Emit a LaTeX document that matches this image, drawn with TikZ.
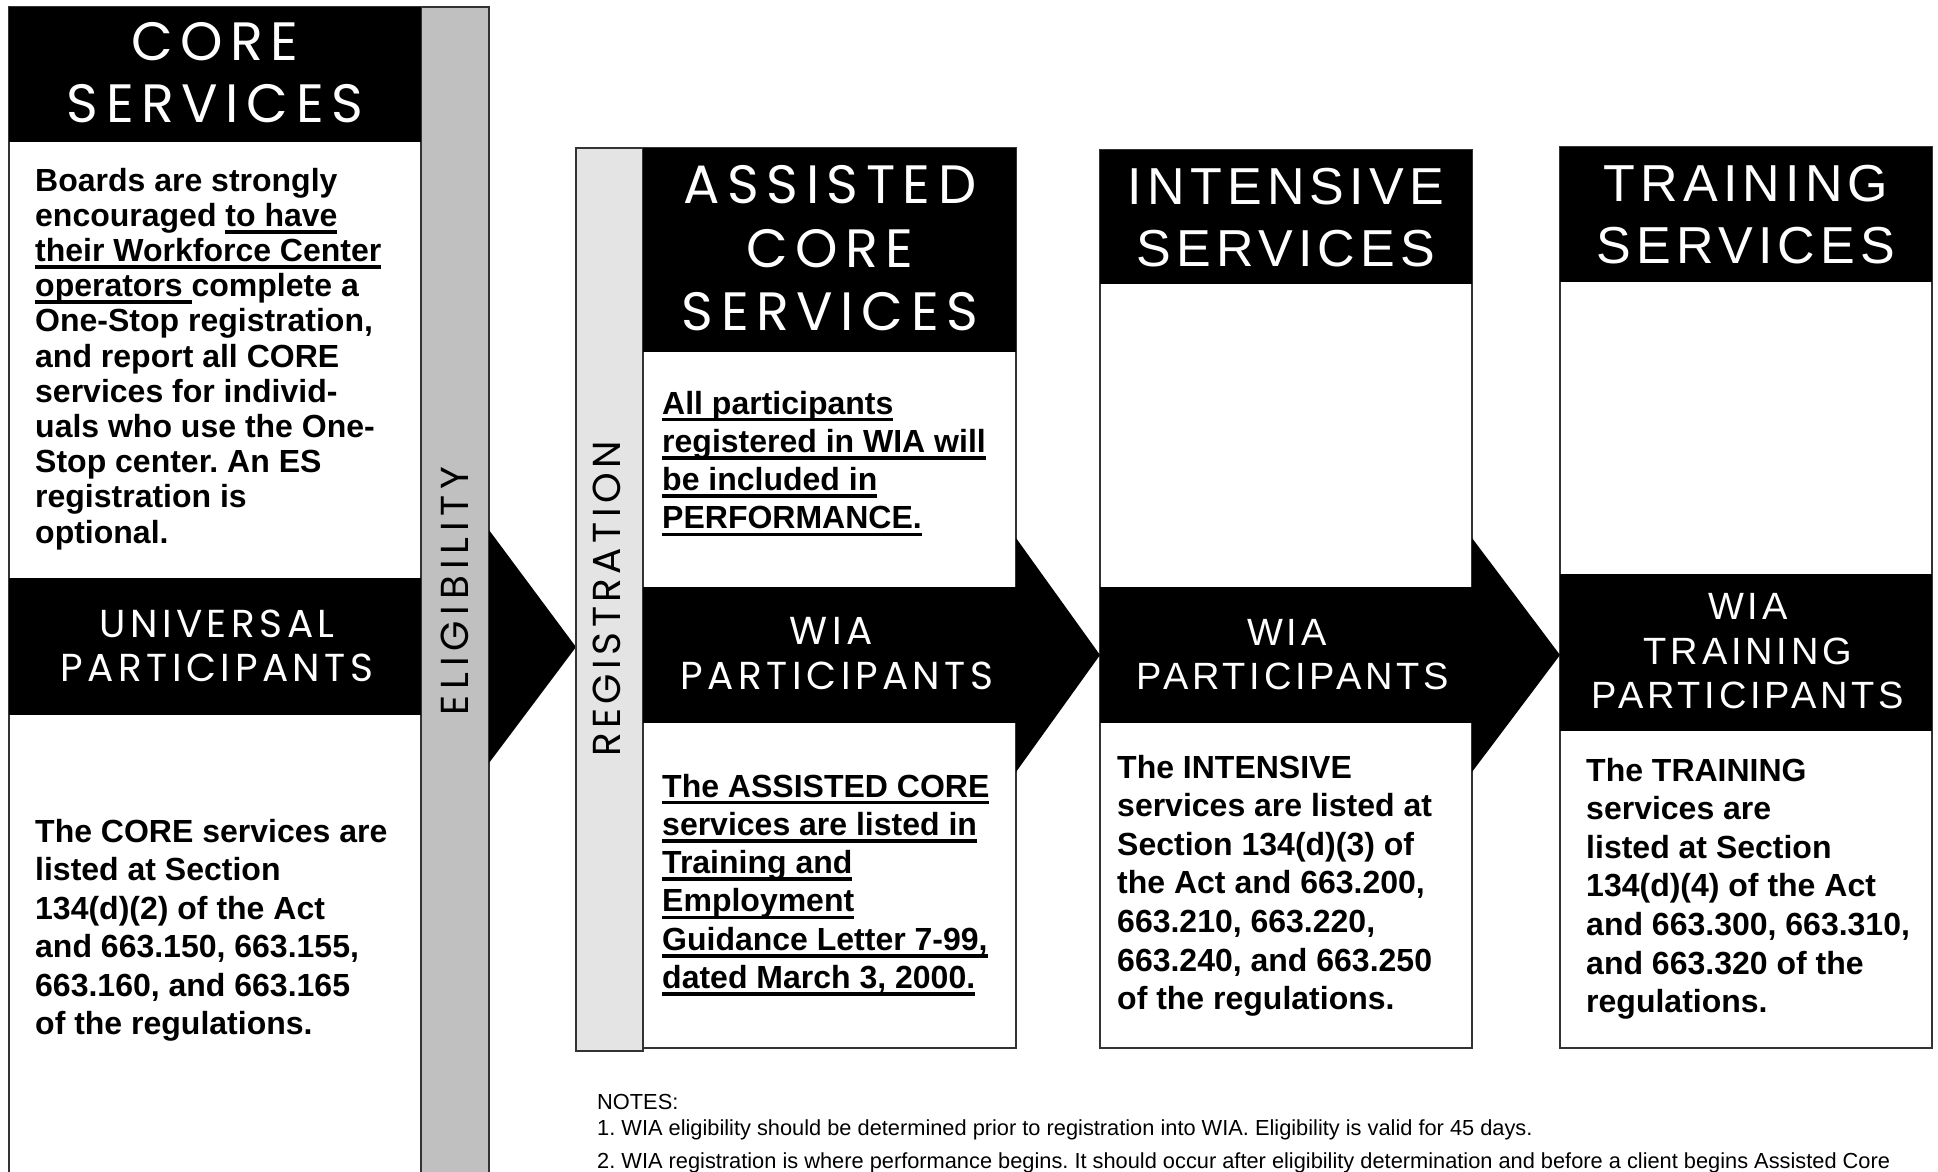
\documentclass[tikz,border=0pt]{standalone}
\usepackage{fontspec}
\setmainfont{Liberation Sans}
\newfontfamily\hdfont{Poppins}[LetterSpace=14]
\newfontfamily\subfont{Poppins}[LetterSpace=11.5]
\newfontfamily\hdwide{Liberation Sans}[LetterSpace=10]
\definecolor{eliggray}{RGB}{192,192,192}
\definecolor{reggray}{RGB}{228,228,228}
\frenchspacing
% underline sitting a fixed distance below the baseline
\newcommand\uln[1]{\setbox0\hbox{#1}\rlap{\rule[-7.3pt]{\wd0}{3.5pt}}\box0}

\begin{document}
\begin{tikzpicture}[x=1pt,y=-1pt,
    hd/.style={text=white,inner sep=0pt,anchor=base,font=\hdfont\fontsize{54}{60}\selectfont},
    sub/.style={text=white,inner sep=0pt,anchor=base,font=\subfont\fontsize{39}{44}\selectfont},
    hdw/.style={text=white,inner sep=0pt,anchor=base,font=\hdwide\fontsize{52}{60}\selectfont},
    subw/.style={text=white,inner sep=0pt,anchor=base,font=\hdwide\fontsize{38}{44}\selectfont},
    vlab/.style={inner sep=0pt,rotate=90,font=\subfont\fontsize{39}{44}\selectfont},
    body/.style={inner sep=0pt,anchor=base west,font=\bfseries\fontsize{32}{38}\selectfont},
    note/.style={inner sep=0pt,anchor=base west,font=\fontsize{21.8}{26}\selectfont},
    box/.style={draw=black!80,line width=1.5pt}]
    \useasboundingbox (0,0) rectangle (1938,1172);
    \clip (0,0) rectangle (1938,1172);

    % core column
    \fill[eliggray] (421,7) rectangle (489,1180);
    \draw[box] (421,1180) -- (421,7) -- (489,7) -- (489,1180);
    \draw[box] (9,1180) -- (9,7) -- (421,7);
    \fill (9,7) rectangle (421,142);
    \fill (9,578) rectangle (421,715);
    \fill (489,530) -- (576,647) -- (489,763) -- cycle;

    % registration bar and the three service boxes
    \draw[box,fill=reggray] (576,148) rectangle (643,1051);
    \foreach \l/\r/\t/\h/\bt/\bb in {643/1016/148/352/587/723,1100/1472/150/284/587/723,1560/1932/147/282/574/731} {
        \draw[box] (\l,\t) rectangle (\r,1048);
        \fill (\l,\t) rectangle (\r,\h);
        \fill (\l,\bt) rectangle (\r,\bb);
    }
    \foreach \x/\tip in {1016/1100,1472/1560} \fill (\x,538) -- (\tip,655) -- (\x,772) -- cycle;

    % headings
    \foreach \t/\y [count=\i] in {CORE/60,SERVICES/122} \node[hd] (core\i) at (215,\y) {\t};
    \foreach \t/\y [count=\i] in {UNIVERSAL/637,PARTICIPANTS/681} \node[sub] (univ\i) at (217,\y) {\t};
    \foreach \t/\y [count=\i] in {ASSISTED/203,CORE/267,SERVICES/330} \node[hd] (asc\i) at (830,\y) {\t};
    \node[sub] (awia1) at (831,644) {WIA};
    \node[sub] (awia2) at (837,689) {PARTICIPANTS};
    \foreach \t/\y [count=\i] in {INTENSIVE/204,SERVICES/266} \node[hdw] (ins\i) at (1286,\y) {\t};
    \node[subw] (iwia1) at (1287,645) {WIA};
    \node[subw] (iwia2) at (1293,689) {PARTICIPANTS};
    \foreach \t/\y [count=\i] in {TRAINING/201,SERVICES/263} \node[hdw] (trs\i) at (1746,\y) {\t};
    \foreach \t/\y [count=\i] in {WIA/619,TRAINING/664,PARTICIPANTS/708} \node[subw] (twia\i) at (1748,\y) {\t};

    \node[vlab] (elig) at (455,591) {\addfontfeatures{LetterSpace=15}ELIGIBILITY};
    \node[vlab] (reg) at (607,599) {REGISTRATION};

    % body texts
    \foreach \t [count=\i] in {Boards are strongly, encouraged \uln{to have}, \uln{their Workforce Center}, \uln{operators\ }complete a, {One-Stop registration,}, and report all CORE, services for individ-, uals who use the One-, Stop center. An ES, registration is, optional.}
        \node[body] (cup\i) at (35,{191+35.2*(\i-1)}) {\t};
    \foreach \t [count=\i] in {The CORE services are, listed at Section, 134(d)(2) of the Act, {and 663.150, 663.155,}, {663.160, and 663.165}, of the regulations.}
        \node[body] (clo\i) at (35,{842+38.5*(\i-1)}) {\t};
    \foreach \t [count=\i] in {All participants, registered in WIA will, be included in, PERFORMANCE.}
        \node[body] (aup\i) at (662,{414+38.3*(\i-1)}) {\uln{\t}};
    \foreach \t [count=\i] in {The ASSISTED CORE, services are listed in, Training and, Employment, {Guidance Letter 7-99,}, {dated March 3, 2000.}}
        \node[body] (alo\i) at (662,{797+38.3*(\i-1)}) {\uln{\t}};
    \foreach \t [count=\i] in {The INTENSIVE, services are listed at, Section 134(d)(3) of, {the Act and 663.200,}, {663.210, 663.220,}, {663.240, and 663.250}, of the regulations.}
        \node[body] (ilo\i) at (1117,{778+38.6*(\i-1)}) {\t};
    \foreach \t [count=\i] in {The TRAINING, services are, listed at Section, 134(d)(4) of the Act, {and 663.300, 663.310,}, and 663.320 of the, regulations.}
        \node[body] (tlo\i) at (1586,{781+38.6*(\i-1)}) {\t};

    % notes
    \node[note] (notes) at (597,1109) {NOTES:};
    \node[note] (note1) at (597,1135) {1. WIA eligibility should be determined prior to registration into WIA. Eligibility is valid for 45 days.};
    \node[note] (note2) at (597,1168) {2. WIA registration is where performance begins. It should occur after eligibility determination and before a client begins Assisted Core};
\end{tikzpicture}
\end{document}
